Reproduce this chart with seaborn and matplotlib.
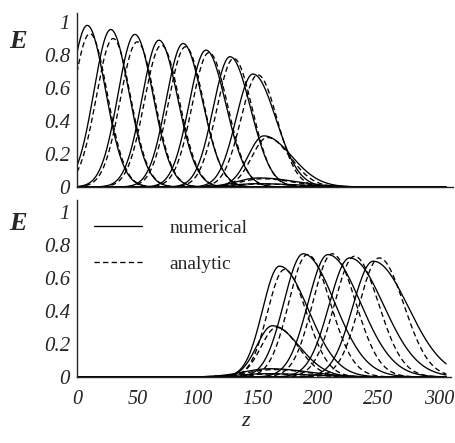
"""Pulse profiles E(z): numerical vs analytic, two panels."""

import matplotlib.pyplot as plt
import numpy as np
import pandas as pd
import seaborn as sns
from matplotlib.lines import Line2D
from matplotlib.ticker import FuncFormatter, MultipleLocator

# Upper panel: pulse peaks (position, height) and left/right widths
TOP_NUM_CENTER = [8.5, 28, 48, 68, 88, 107, 127, 146, 155, 151, 150]
TOP_NUM_HEIGHT = [0.98, 0.955, 0.925, 0.89, 0.87, 0.83, 0.79, 0.685, 0.31, 0.055, 0.02]
TOP_NUM_WL = [14, 14, 14, 14, 14, 14, 14, 14, 13, 18, 22]
TOP_NUM_WR = [15, 15, 15, 15.5, 16, 16.5, 17, 19, 23, 30, 35]

TOP_ANA_CENTER = [10.7, 30, 50, 70, 90, 109.5, 130, 150, 158, 154, 152]
TOP_ANA_HEIGHT = [0.93, 0.90, 0.88, 0.86, 0.85, 0.815, 0.78, 0.68, 0.30, 0.05, 0.018]
TOP_ANA_WL = [14, 14, 14, 14, 14, 14, 14, 14, 13, 18, 22]
TOP_ANA_WR = [14.5, 14.5, 14.5, 15, 15, 15.5, 15.5, 16, 19, 25, 30]

# Lower panel
BOT_NUM_CENTER = [162, 167.8, 187.5, 208, 226, 245.5, 160, 158]
BOT_NUM_HEIGHT = [0.31, 0.67, 0.745, 0.74, 0.72, 0.70, 0.05, 0.02]
BOT_NUM_WL = [13, 14, 16, 16.5, 17, 17, 22, 25]
BOT_NUM_WR = [22, 24, 26, 27, 28, 29, 32, 36]

BOT_ANA_CENTER = [165.5, 172, 191, 211.5, 230, 250.5, 164, 162]
BOT_ANA_HEIGHT = [0.30, 0.65, 0.74, 0.745, 0.73, 0.72, 0.045, 0.018]
BOT_ANA_WL = [13, 14, 15.5, 16, 16.5, 16.5, 22, 25]
BOT_ANA_WR = [18, 18, 19, 19.5, 20, 20.5, 26, 30]

Z_MAX = 306
X_TICKS = [0, 50, 100, 150, 200, 250, 300]
Y_TICKS = [0, 0.2, 0.4, 0.6, 0.8, 1.0]

FONT = ["Liberation Serif", "DejaVu Serif"]


def _pulse(z, c, h, wl, wr):
    w = np.where(z < c, wl, wr)
    return h * np.exp(-0.5 * ((z - c) / w) ** 2)


def _frame(centers, heights, wls, wrs, kind):
    z = np.linspace(0, Z_MAX, 613)
    rows = []
    for i, (c, h, wl, wr) in enumerate(zip(centers, heights, wls, wrs)):
        rows.append(
            pd.DataFrame(
                {"z": z, "E": _pulse(z, c, h, wl, wr), "curve": f"{kind}{i}", "kind": kind}
            )
        )
    return pd.concat(rows, ignore_index=True)


def _draw(ax, df):
    sns.lineplot(
        data=df,
        x="z",
        y="E",
        units="curve",
        style="kind",
        estimator=None,
        sort=False,
        color="black",
        linewidth=0.95,
        dashes={"numerical": "", "analytic": (4, 2.5)},
        legend=False,
        ax=ax,
    )
    ax.set_xlim(0, 312)
    ax.set_xlabel("")
    ax.set_ylabel("")
    ax.set_yticks(Y_TICKS)
    ax.yaxis.set_minor_locator(MultipleLocator(0.05))
    ax.yaxis.set_major_formatter(FuncFormatter(lambda v, pos: f"{v:g}"))
    ax.tick_params(axis="y", which="major", direction="in", length=4, width=0.8,
                   labelsize=15, pad=5)
    ax.tick_params(axis="y", which="minor", direction="in", length=2, width=0.6)
    for lab in ax.get_yticklabels():
        lab.set_fontstyle("italic")
    sns.despine(ax=ax)
    for s in ("left", "bottom"):
        ax.spines[s].set_linewidth(1.0)


sns.set_style("white")
plt.rcParams["font.family"] = FONT

fig = plt.figure(figsize=(4.55, 4.43), dpi=100)
W, H = 455, 443
ax_top = fig.add_axes([77 / W, (H - 187) / H, 376 / W, 174 / H])
ax_bot = fig.add_axes([77 / W, (H - 377) / H, 374 / W, 177 / H])

top_df = pd.concat([
    _frame(TOP_NUM_CENTER, TOP_NUM_HEIGHT, TOP_NUM_WL, TOP_NUM_WR, "numerical"),
    _frame(TOP_ANA_CENTER, TOP_ANA_HEIGHT, TOP_ANA_WL, TOP_ANA_WR, "analytic"),
])
bot_df = pd.concat([
    _frame(BOT_NUM_CENTER, BOT_NUM_HEIGHT, BOT_NUM_WL, BOT_NUM_WR, "numerical"),
    _frame(BOT_ANA_CENTER, BOT_ANA_HEIGHT, BOT_ANA_WL, BOT_ANA_WR, "analytic"),
])

_draw(ax_top, top_df)
ax_top.set_ylim(0, 1.055)
ax_top.set_xticks(X_TICKS)
ax_top.tick_params(axis="x", length=0, labelbottom=False)

_draw(ax_bot, bot_df)
ax_bot.set_xlim(0, 310)
ax_bot.set_ylim(0, 1.07)
ax_bot.set_xticks(X_TICKS)
ax_bot.xaxis.set_minor_locator(MultipleLocator(10))
ax_bot.tick_params(axis="x", which="major", direction="in", length=4, width=0.8,
                   labelsize=14.5, pad=9)
ax_bot.tick_params(axis="x", which="minor", direction="in", length=2, width=0.6)
for lab in ax_bot.get_xticklabels():
    lab.set_fontstyle("italic")

# Legend
handles = [
    Line2D([0], [0], color="black", lw=0.95, label="numerical"),
    Line2D([0], [0], color="black", lw=0.95, dashes=(4, 2.5), label="analytic"),
]
ax_bot.legend(
    handles=handles,
    loc="upper left",
    bbox_to_anchor=(0.045, 0.89),
    frameon=False,
    fontsize=14,
    handlelength=2.5,
    handletextpad=1.4,
    labelspacing=0.95,
    borderpad=0,
    borderaxespad=0,
)

# Axis labels
fig.text(18 / W, 1 - 42 / H, "E", ha="center", va="center", fontsize=19,
         fontweight="bold", fontstyle="italic")
fig.text(18 / W, 1 - 224 / H, "E", ha="center", va="center", fontsize=19,
         fontweight="bold", fontstyle="italic")
fig.text(246 / W, 1 - 422 / H, "z", ha="center", va="center", fontsize=16,
         fontstyle="italic")

fig.savefig("out.png", dpi=100)
